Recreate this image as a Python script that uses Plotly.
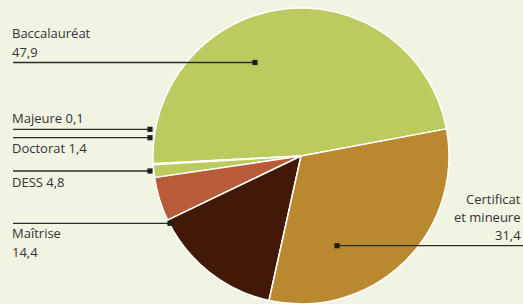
import plotly.graph_objects as go

# ---- data ----
categories = ["Baccalauréat", "Majeure", "Doctorat", "DESS", "Maîtrise", "Certificat et mineure"]
values = [47.9, 0.1, 1.4, 4.8, 14.4, 31.4]
value_labels = ["47,9", "0,1", "1,4", "4,8", "14,4", "31,4"]

# ---- styles ----
colors = ["#bdca5f", "#3a2a1a", "#bdca5f", "#b85b39", "#421807", "#ba882f"]
BG = "#f2f4e3"
TXT = "#333333"
LINE = "#2b2b2b"
FONT = "Open Sans"

W, H = 523, 304
cx, cy, r = 301, 156, 148

fig = go.Figure()

fig.add_trace(go.Pie(
    labels=categories,
    values=values,
    sort=False,
    direction="counterclockwise",
    rotation=-93,
    marker=dict(colors=colors, line=dict(color="white", width=1.5)),
    textinfo="none",
    hoverinfo="label+value",
    showlegend=False,
    domain=dict(x=[(cx - r) / W, (cx + r) / W], y=[(H - cy - r) / H, (H - cy + r) / H]),
))

# leader lines: (x0, x1, y) and marker position
leaders = [
    (13, 255, 62.5, 255),     # Baccalauréat
    (13, 150, 129.3, 150),    # Majeure
    (13, 150, 137.7, 150),    # Doctorat
    (13, 150, 171, 150),      # DESS
    (13, 170, 223.3, 170),    # Maîtrise
    (337, 523, 245.7, 337),   # Certificat
]
for x0, x1, y, m in leaders:
    fig.add_shape(type="line", xref="x", yref="y", x0=x0, x1=x1, y0=y, y1=y,
                  line=dict(color=LINE, width=1.3), layer="above")
    fig.add_shape(type="rect", xref="x", yref="y", x0=m - 2.6, x1=m + 2.6, y0=y - 2.6, y1=y + 2.6,
                  line=dict(width=0), fillcolor="#1e1e1e", layer="above")

def lab(text, x, y, anchor="left"):
    fig.add_annotation(x=x, y=y, xref="x", yref="y", text=text, showarrow=False,
                       xanchor=anchor, yanchor="middle",
                       font=dict(family=FONT, size=13, color=TXT))

lab(categories[0], 10, 33)
lab(value_labels[0], 10, 52)
lab(f"{categories[1]} {value_labels[1]}", 10, 118)
lab(f"{categories[2]} {value_labels[2]}", 10, 147.5)
lab(f"{categories[3]} {value_labels[3]}", 10, 182)
lab(categories[4], 10, 233)
lab(value_labels[4], 10, 252)
lab("Certificat", 523, 199, "right")
lab("et mineure", 523, 217, "right")
lab(value_labels[5], 523, 235, "right")

fig.update_layout(
    width=W, height=H,
    margin=dict(l=0, r=0, t=0, b=0),
    paper_bgcolor=BG, plot_bgcolor=BG,
    xaxis=dict(range=[0, W], visible=False, fixedrange=True),
    yaxis=dict(range=[H, 0], visible=False, fixedrange=True),
)

fig.write_html("out.html", config={"displayModeBar": False},
               post_script="document.body.style.margin='0';")
